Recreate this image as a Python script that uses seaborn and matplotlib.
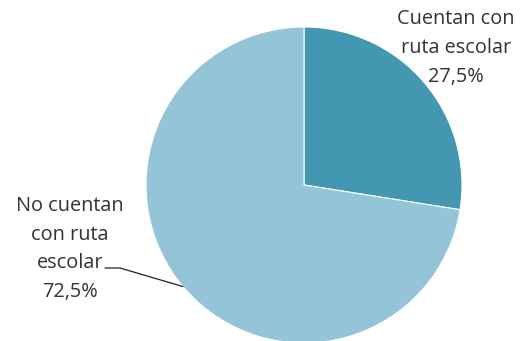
import numpy as np
import seaborn as sns
import matplotlib.pyplot as plt

labels = ['Cuentan con\nruta escolar\n27,5%', 'No cuentan\ncon ruta\nescolar\n72,5%']
values = [27.5, 72.5]
colors = ['#4397B1', '#93C4D8']

sns.set_theme(style='white')
plt.rcParams['font.family'] = ['Open Sans', 'DejaVu Sans']

W, H = 521, 341
fig = plt.figure(figsize=(W / 100, H / 100), dpi=100)
# pie centred at (304,185) px, radius 158 px
cx, cy, r = 304, 185, 158
ax = fig.add_axes([(cx - r) / W, (H - cy - r) / H, 2 * r / W, 2 * r / H])
ax.pie(values, colors=colors, startangle=90, counterclock=False, radius=1,
       wedgeprops=dict(edgecolor='white', linewidth=0.8))
ax.set_xlim(-1, 1)
ax.set_ylim(-1, 1)
ax.set_aspect('equal')
ax.axis('off')

fs = 14.3
fig.text(456 / W, 1 - 48 / H, labels[0], ha='center', va='center',
         fontsize=fs, color='#333333', linespacing=1.58)
fig.text(70 / W, 1 - 249 / H, labels[1], ha='center', va='center',
         fontsize=fs, color='#333333', linespacing=1.58)

# leader line for the big slice
ang = np.deg2rad(220)
ex, ey = np.cos(ang), np.sin(ang)
def px2data(x, y):
    return (x - cx) / r, (cy - y) / r
x1, y1 = px2data(105, 268)
x2, y2 = px2data(120, 268)
ax.plot([x1, x2, ex], [y1, y2, ey], color='#202020', lw=0.9, clip_on=False)

fig.savefig('out.png', dpi=100)
